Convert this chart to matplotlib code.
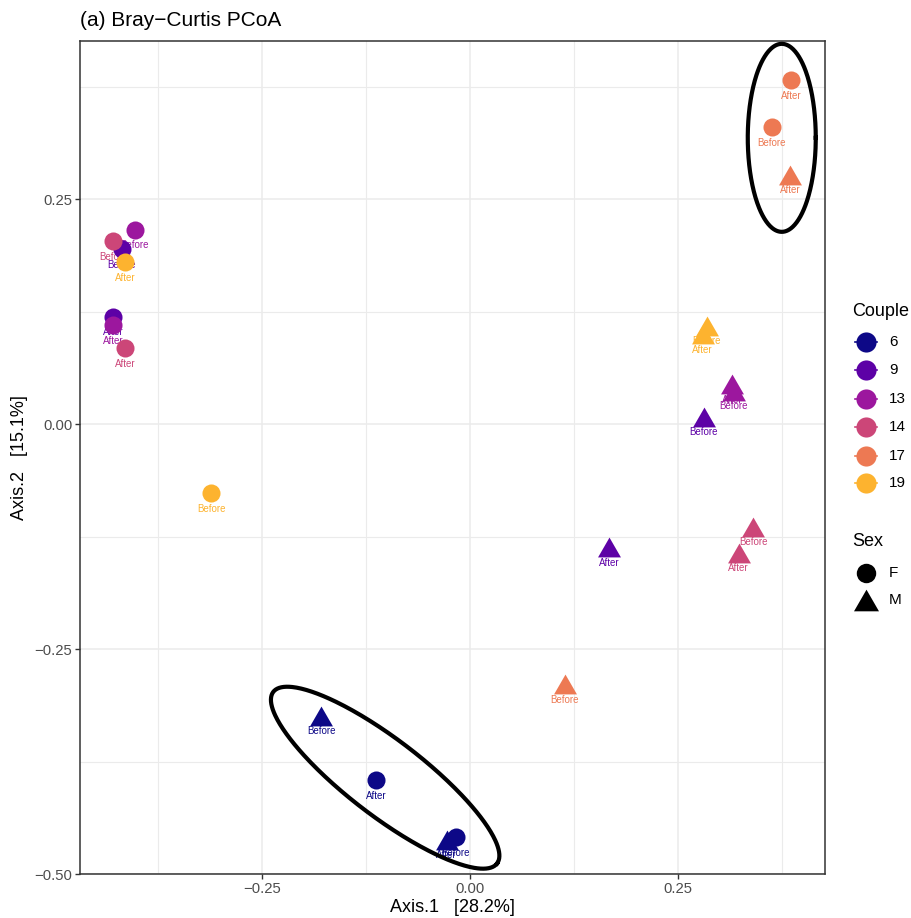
import numpy as np
import matplotlib.pyplot as plt
from matplotlib.lines import Line2D

plt.rcParams['font.family'] = ['Liberation Sans', 'DejaVu Sans']

# =============================
# data
# =============================
couple = [6, 6, 6, 6,
          9, 9, 9, 9,
          13, 13, 13, 13,
          14, 14, 14, 14,
          17, 17, 17, 17,
          19, 19, 19, 19]
sex = ['M', 'F', 'M', 'F',
       'F', 'F', 'M', 'M',
       'F', 'F', 'M', 'M',
       'F', 'F', 'M', 'M',
       'F', 'F', 'M', 'M',
       'F', 'F', 'M', 'M']
time = ['Before', 'After', 'After', 'Before',
        'Before', 'After', 'Before', 'After',
        'Before', 'After', 'After', 'Before',
        'Before', 'After', 'Before', 'After',
        'After', 'Before', 'After', 'Before',
        'After', 'Before', 'Before', 'After']
axis1 = [-0.179, -0.113, -0.028, -0.017,
         -0.419, -0.429, 0.281, 0.167,
         -0.403, -0.429, 0.315, 0.317,
         -0.429, -0.415, 0.341, 0.323,
         0.386, 0.363, 0.385, 0.114,
         -0.415, -0.311, 0.285, 0.280]
axis2 = [-0.324, -0.396, -0.462, -0.459,
         0.194, 0.119, 0.008, -0.137,
         0.216, 0.110, 0.044, 0.037,
         0.203, 0.084, -0.114, -0.143,
         0.382, 0.330, 0.277, -0.289,
         0.180, -0.077, 0.109, 0.100]

couple_levels = [6, 9, 13, 14, 17, 19]
couple_colors = ['#0D0887', '#5D01A6', '#9C179E', '#CC4678', '#ED7953', '#FDB32F']
sex_levels = ['F', 'M']

# hand drawn ellipses: centre (data), semi axes (px), angle (deg)
ellipses = [(0.375, 0.318, 34, 94, 0),
            (-0.102, -0.393, 141, 38, -37.5)]

col = dict(zip(couple_levels, couple_colors))
tri = [(-1, -0.866), (1, -0.866), (0, 0.866)]
marker = {'F': 'o', 'M': tri}
msize = {'F': 13, 'M': 16.5}

W, H = 911, 918
fig = plt.figure(figsize=(W / 100, H / 100), dpi=100)
ax = fig.add_axes([80 / W, 44 / H, 745 / W, 833 / H])
ax.set_xlim(-0.469, 0.427)
ax.set_ylim(-0.5, 0.4256)

# =============================
# points + labels
# =============================
for i in range(len(couple)):
    c = col[couple[i]]
    ax.annotate(time[i], (axis1[i], axis2[i]), xytext=(0, -11.2),
                textcoords='offset points', ha='center', va='center',
                fontsize=7, color=c, zorder=2)
    ax.plot(axis1[i], axis2[i], linestyle='none', marker=marker[sex[i]],
            markersize=msize[sex[i]], color=c, markeredgewidth=0, zorder=3)

# ellipses
for cx, cy, a, b, ang in ellipses:
    t = np.linspace(0, 2 * np.pi, 400)
    th = np.deg2rad(ang)
    u, v = a * np.cos(t), b * np.sin(t)
    dx = u * np.cos(th) - v * np.sin(th)
    dy = u * np.sin(th) + v * np.cos(th)
    c0 = ax.transData.transform((cx, cy))
    pts = ax.transData.inverted().transform(np.column_stack([c0[0] + dx, c0[1] + dy]))
    ax.plot(pts[:, 0], pts[:, 1], color='black', lw=3, zorder=4, clip_on=False)

# =============================
# axes styling (theme_bw like)
# =============================
ax.set_xticks([-0.25, 0, 0.25])
ax.set_xticks([-0.375, -0.125, 0.125, 0.375], minor=True)
ax.set_yticks([-0.5, -0.25, 0, 0.25])
ax.set_yticks([-0.375, -0.125, 0.125, 0.375], minor=True)
ax.set_xticklabels(['\u22120.25', '0.00', '0.25'])
ax.set_yticklabels(['\u22120.50', '\u22120.25', '0.00', '0.25'])
ax.grid(which='major', color='#EBEBEB', lw=1.1, zorder=0)
ax.grid(which='minor', color='#EBEBEB', lw=0.8, zorder=0)
ax.set_axisbelow(True)
ax.tick_params(which='major', length=3.5, width=1, color='#333333',
               labelsize=10.7, labelcolor='#4D4D4D', pad=2)
ax.tick_params(which='minor', length=0)
for s in ax.spines.values():
    s.set_color('#333333')
    s.set_linewidth(1.1)

fig.text(80 / W, 1 - 21 / H, '(a) Bray\u2212Curtis PCoA', fontsize=15, va='center')
fig.text(452.5 / W, 1 - 908 / H, 'Axis.1   [28.2%]', fontsize=13, ha='center', va='center')
fig.text(20 / W, 1 - 457.5 / H, 'Axis.2   [15.1%]', fontsize=13, ha='center',
         va='center', rotation=90)

# =============================
# legends
# =============================
def fx(px):
    return px / W


def fy(py):
    return 1 - py / H


fig.text(fx(852), fy(311.5), 'Couple', fontsize=13, va='center')
key_y = [341.7, 370.3, 399, 427, 455.7, 483.3]
for lev, c, ky in zip(couple_levels, couple_colors, key_y):
    fig.add_artist(Line2D([fx(855), fx(877)], [fy(ky), fy(ky)], color=c, lw=1.2,
                          transform=fig.transFigure))
    fig.add_artist(Line2D([fx(866)], [fy(ky)], marker='o', markersize=14.5,
                          color=c, markeredgewidth=0, transform=fig.transFigure))
    fig.text(fx(889), fy(ky), str(lev), fontsize=11, va='center')

fig.text(fx(852), fy(541.7), 'Sex', fontsize=13, va='center')
for lev, ky in zip(sex_levels, [572.7, 600]):
    ms = 14 if lev == 'F' else 18
    fig.add_artist(Line2D([fx(866)], [fy(ky)], marker=marker[lev], markersize=ms,
                          color='black', markeredgewidth=0, transform=fig.transFigure))
    fig.text(fx(889), fy(ky), lev, fontsize=11, va='center')

plt.savefig('out.png', dpi=100)
